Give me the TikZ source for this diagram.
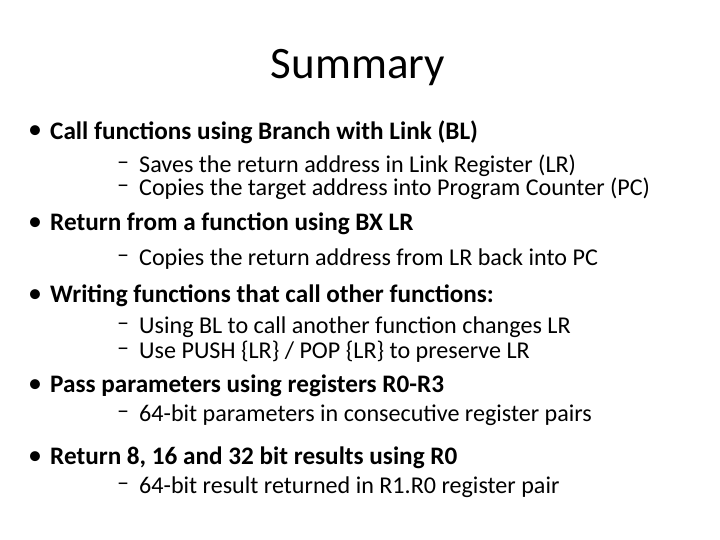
\documentclass[tikz,border=0pt]{standalone}
\usepackage{fontspec}
\setmainfont{Carlito}
\begin{document}
\begin{tikzpicture}[x=1pt,y=-1pt,
  title/.style={font=\fontsize{45}{52}\selectfont},
  bul/.style={anchor=west,inner sep=0pt,font=\fontsize{25.2}{30}\selectfont\bfseries},
  sub/.style={anchor=west,inner sep=0pt,font=\fontsize{24.1}{28}\selectfont},
  dotmark/.style={anchor=west,inner sep=0pt,font=\fontsize{28}{30}\selectfont}]
\useasboundingbox[fill=white] (0,0) rectangle (720,540);
\node[title] (t) at (358,68) {Summary};
\foreach \n/\y/\txt in {b1/132/{Call functions using Branch with Link (BL)},
  b2/224/{Return from a function using BX LR},
  b3/296/{Writing functions that call other functions:},
  b4/386/{Pass parameters using registers R0-R3},
  b5/458/{Return 8, 16 and 32 bit results using R0}}{
  \node[dotmark] (m\n) at (28,\y) {•};
  \node[bul] (\n) at (50,\y) {\txt};
}
\foreach \n/\y/\txt in {s1/166/{Saves the return address in Link Register (LR)},
  s2/189/{Copies the target address into Program Counter (PC)},
  s3/259/{Copies the return address from LR back into PC},
  s4/327/{Using BL to call another function changes LR},
  s5/352/{Use PUSH \{LR\} / POP \{LR\} to preserve LR},
  s6/415/{64-bit parameters in consecutive register pairs},
  s7/487/{64-bit result returned in R1.R0 register pair}}{
  \node[sub] (m\n) at (117,\y) {–};
  \node[sub] (\n) at (139,\y) {\txt};
}
\end{tikzpicture}
\end{document}
